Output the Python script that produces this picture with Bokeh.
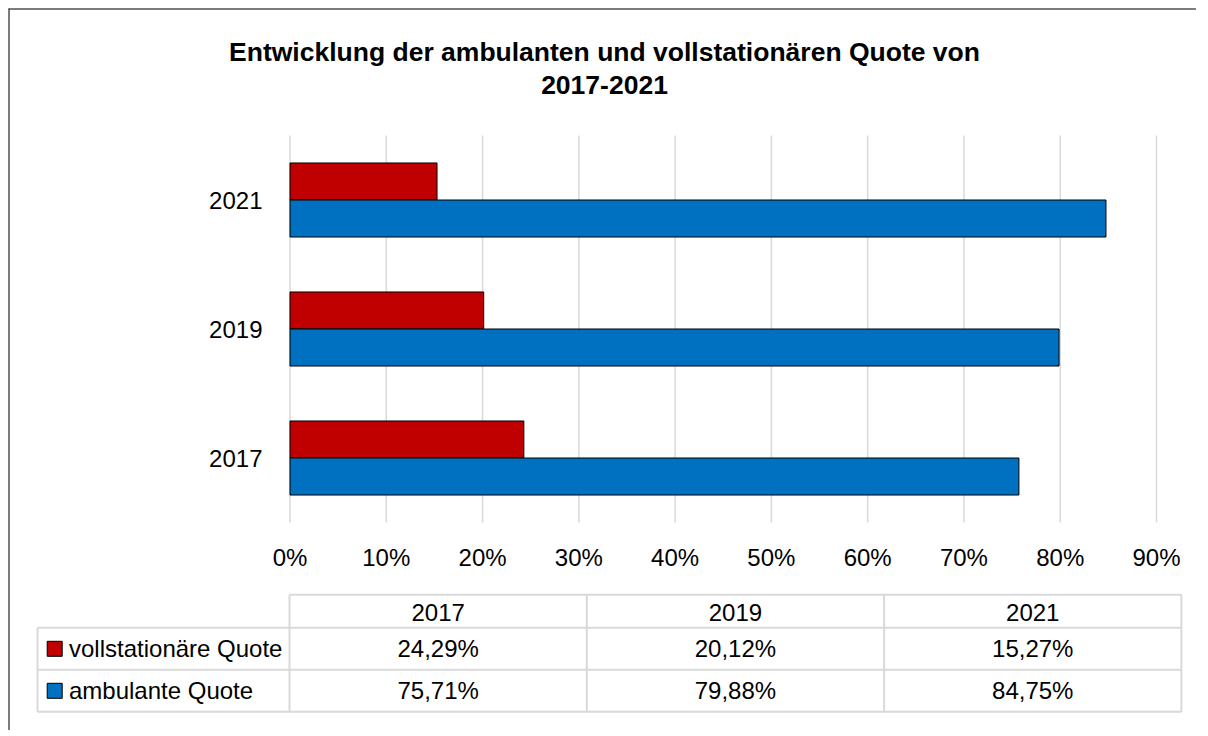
from bokeh.plotting import figure
from bokeh.models import Range1d, ColumnDataSource
from bokeh.transform import dodge
from bokeh.core.properties import value
from bokeh.embed import file_html
from bokeh.resources import INLINE

# ---------------- data ----------------
years = ["2017", "2019", "2021"]
vollstationaer = [24.29, 20.12, 15.27]   # %
ambulant = [75.71, 79.88, 84.75]         # %
series_names = ["vollstationäre Quote", "ambulante Quote"]
series_colors = ["#C00000", "#0070C0"]
x_ticks = [0.0, 0.1, 0.2, 0.3, 0.4, 0.5, 0.6, 0.7, 0.8, 0.9]
x_tick_labels = ["0%", "10%", "20%", "30%", "40%", "50%", "60%", "70%", "80%", "90%"]
title_lines = ["Entwicklung der ambulanten und vollstationären Quote von", "2017-2021"]

FONT = "Liberation Sans"
FS = "24px"
GRID = "#d9d9d9"
TXT = "#000000"

# ---------------- canvas geometry (pixels) ----------------
W, H = 1196, 730
X0_PX, X90_PX = 289.5, 1156.0       # 0 % and 90 % positions
ppu_x = (X90_PX - X0_PX) / 0.9       # pixels per unit of share
Y_FIRST_PX = 457.5                   # centre of first category
ppu_y = 129.0                        # pixels per category


def X(px):
    return (px - X0_PX) / ppu_x


def Y(py):
    return (Y_FIRST_PX - py) / ppu_y


p = figure(width=W, height=H,
           x_range=Range1d(X(0), X(W)), y_range=Range1d(Y(H), Y(0)),
           x_axis_location=None, y_axis_location=None,
           output_backend="svg", toolbar_location=None,
           min_border_left=0, min_border_right=0, min_border_top=0, min_border_bottom=0)
p.grid.visible = False
p.outline_line_color = None
p.background_fill_color = "white"
p.border_fill_color = "white"

ypos = list(range(len(years)))
src = ColumnDataSource(dict(
    year=years,
    ypos=ypos,
    voll=[v / 100 for v in vollstationaer],
    amb=[v / 100 for v in ambulant],
))

# ---------------- outer border (top + left) ----------------
p.segment(x0=[X(8), X(8.5)], y0=[Y(8.5), Y(8)], x1=[X(W), X(8.5)], y1=[Y(8.5), Y(H)],
          line_color="#505050", line_width=1.5)

# ---------------- title ----------------
p.text(x=[X(604), X(604)], y=[Y(51), Y(84)], text=title_lines, text_align="center",
       text_baseline="alphabetic", text_font=value(FONT), text_font_size="26.5px",
       text_font_style="bold", text_color=TXT)

# ---------------- vertical grid lines ----------------
y_lo, y_hi = ypos[0] - 0.5, ypos[-1] + 0.5
p.segment(x0=x_ticks, y0=[y_lo] * len(x_ticks), x1=x_ticks, y1=[y_hi] * len(x_ticks),
          line_color=GRID, line_width=1.5)

# ---------------- bars ----------------
bar_h = 0.287
p.hbar(y=dodge("ypos", bar_h / 2), left=0, right="voll", height=bar_h,
       fill_color=series_colors[0], line_color="#000000", line_width=1, source=src)
p.hbar(y=dodge("ypos", -bar_h / 2), left=0, right="amb", height=bar_h,
       fill_color=series_colors[1], line_color="#000000", line_width=1, source=src)

# ---------------- axis labels ----------------
p.text(x=[X(262)] * len(years), y=ypos, text=years, text_align="right",
       text_baseline="middle", text_font=value(FONT), text_font_size=FS, text_color=TXT)
p.text(x=x_ticks, y=[Y(557)] * len(x_ticks), text=x_tick_labels, text_align="center",
       text_baseline="middle", text_font=value(FONT), text_font_size=FS, text_color=TXT)

# ---------------- data table ----------------
ncol = len(years)
nrow = len(series_names)
col_w = 297.3
tab_x0 = X0_PX - 0.5          # left edge of first year column
lab_x0 = 37.0                 # left edge of row-label column
row_h = 42.0
head_top = 594.3
head_bot = 627.3
row_edges = [head_bot + i * row_h for i in range(nrow + 1)]
col_edges = [tab_x0 + i * col_w for i in range(ncol + 1)]

# horizontal lines
hx0 = [col_edges[0]] + [lab_x0] * (nrow + 1)
hx1 = [col_edges[-1]] * (nrow + 2)
hy = [head_top] + row_edges
p.segment(x0=[X(v) for v in hx0], y0=[Y(v) for v in hy],
          x1=[X(v) for v in hx1], y1=[Y(v) for v in hy], line_color=GRID, line_width=2)
# vertical lines
vx = [lab_x0] + col_edges
vy0 = [row_edges[0]] + [head_top] * (ncol + 1)
p.segment(x0=[X(v) for v in vx], y0=[Y(v) for v in vy0],
          x1=[X(v) for v in vx], y1=[Y(row_edges[-1])] * len(vx),
          line_color=GRID, line_width=2)

centers = [X(c + col_w / 2) for c in col_edges[:-1]]
p.text(x=centers, y=[Y((head_top + head_bot) / 2 + 1)] * ncol, text=years,
       text_align="center", text_baseline="middle", text_font=value(FONT),
       text_font_size=FS, text_color=TXT)


def fmt(v):
    return f"{v:.2f}".replace(".", ",") + "%"


rows = [vollstationaer, ambulant]
for r, vals in enumerate(rows):
    yy = Y(row_edges[r] + row_h / 2)
    p.text(x=centers, y=[yy] * ncol, text=[fmt(v) for v in vals],
           text_align="center", text_baseline="middle", text_font=value(FONT),
           text_font_size=FS, text_color=TXT)
    p.scatter(x=[X(54.2)], y=[yy], marker="square", size=15,
              fill_color=series_colors[r], line_color="#000000", line_width=1)
    p.text(x=[X(68.5)], y=[yy], text=[series_names[r]],
           text_align="left", text_baseline="middle", text_font=value(FONT),
           text_font_size=FS, text_color=TXT)

open("out.html", "w").write(file_html(p, INLINE))
